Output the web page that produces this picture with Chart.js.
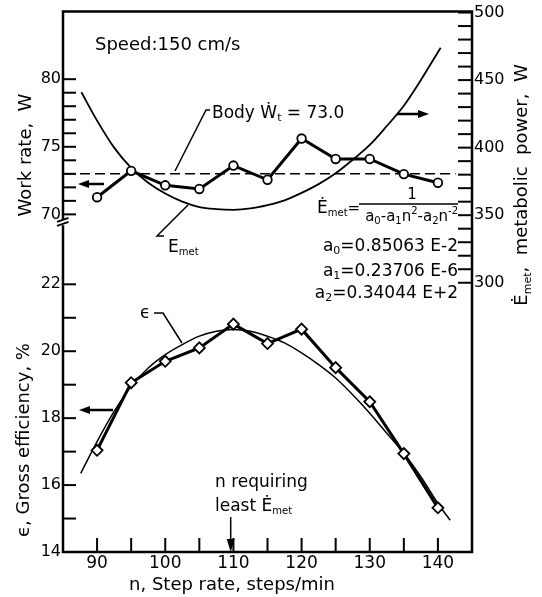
<!DOCTYPE html>
<html><head><meta charset="utf-8">
<script src="https://cdn.jsdelivr.net/npm/chart.js@4.4.1/dist/chart.umd.min.js"></script>
<style>html,body{margin:0;padding:0;background:#fff}canvas{display:block}</style>
</head><body>
<canvas id="c" width="542" height="597"></canvas>
<script>
// ---- data ----
const stepRates = [90, 95, 100, 105, 110, 115, 120, 125, 130, 135, 140];
const workRate = [71.27, 73.22, 72.15, 71.88, 73.61, 72.56, 75.61, 74.10, 74.10, 72.98, 72.34];
const efficiency = [17.04, 19.06, 19.70, 20.10, 20.81, 20.23, 20.66, 19.51, 18.49, 16.94, 15.32];
const bodyWt = 73.0;
const bodyWtRange = [85.3, 142.6];
const emetRates = [87.7, 90, 92.5, 95, 97.5, 100, 102.5, 105, 107.5, 110, 112.5, 115, 117.5, 120, 122.5, 125, 127.5, 130, 132.5, 135, 137.5, 140.4];
const emetValues = [441, 420, 400, 385, 374, 366, 360, 356, 354.5, 354, 355, 357.5, 361, 366.5, 373, 381, 391, 402, 416, 431, 450, 474];
const effFitRates = [87.6, 90, 92.5, 95, 97.5, 100, 102.5, 105, 107.5, 110, 112.5, 115, 117.5, 120, 122.5, 125, 127.5, 130, 132.5, 135, 137.5, 140, 141.8];
const effFitValues = [16.35, 17.3, 18.2, 18.95, 19.5, 19.9, 20.2, 20.45, 20.6, 20.65, 20.6, 20.45, 20.25, 19.95, 19.6, 19.2, 18.7, 18.15, 17.55, 16.95, 16.25, 15.45, 14.95];
const xTickValues = [90, 95, 100, 105, 110, 115, 120, 125, 130, 135, 140];
const xTickLabels = ['90', '', '100', '', '110', '', '120', '', '130', '', '140'];
const workTickValues = [70, 71, 72, 73, 74, 75, 76, 77, 78, 79, 80];
const workTickLabels = ['70', '', '', '', '', '75', '', '', '', '', '80'];
const effTickValues = [14, 15, 16, 17, 18, 19, 20, 21, 22];
const effTickLabels = ['14', '', '16', '', '18', '', '20', '', '22'];
const emetTickValues = [300, 310, 320, 330, 340, 350, 360, 370, 380, 390, 400, 410, 420, 430, 440, 450, 460, 470, 480, 490, 500];
const emetTickLabels = ['300', '', '', '', '', '350', '', '', '', '', '400', '', '', '', '', '450', '', '', '', '', '500'];
const leastEmetRate = 109.6;

const F = '"DejaVu Sans", sans-serif';
const fnt = s => s + 'px ' + F;
const pts = (xs, ys) => xs.map((x, i) => ({x, y: ys[i]}));
const lbl = (vals, labels) => v => { const i = vals.indexOf(v); return i >= 0 ? labels[i] : ''; };
const setTicks = vals => s => { s.ticks = vals.map(v => ({value: v})); };

function rich(ctx, x, y, parts, align) {
  let w = 0;
  for (const p of parts) { ctx.font = fnt(p[1]); w += ctx.measureText(p[0]).width; }
  let cx = align === 'center' ? x - w / 2 : align === 'right' ? x - w : x;
  ctx.textAlign = 'left'; ctx.textBaseline = 'alphabetic';
  for (const p of parts) { ctx.font = fnt(p[1]); ctx.fillText(p[0], cx, y + (p[2] || 0)); cx += ctx.measureText(p[0]).width; }
}
function line(ctx, coords, w) {
  ctx.lineWidth = w; ctx.beginPath(); ctx.moveTo(coords[0], coords[1]);
  for (let i = 2; i < coords.length; i += 2) ctx.lineTo(coords[i], coords[i + 1]);
  ctx.stroke();
}
function arrow(ctx, x1, y1, x2, y2, w, hl, hw) {
  const ang = Math.atan2(y2 - y1, x2 - x1);
  const bx = x2 - Math.cos(ang) * hl, by = y2 - Math.sin(ang) * hl;
  line(ctx, [x1, y1, bx, by], w);
  ctx.beginPath(); ctx.moveTo(x2, y2);
  ctx.lineTo(bx + Math.sin(ang) * hw, by - Math.cos(ang) * hw);
  ctx.lineTo(bx - Math.sin(ang) * hw, by + Math.cos(ang) * hw);
  ctx.closePath(); ctx.fill();
}

const decor = {
  id: 'decor',
  afterDraw(chart) {
    const ctx = chart.ctx, a = chart.chartArea, s = chart.scales;
    ctx.save();
    ctx.strokeStyle = '#000'; ctx.fillStyle = '#000'; ctx.lineCap = 'butt';
    const bY = s.yW.bottom + 8;
    // frame with axis break
    ctx.lineWidth = 2.5; ctx.lineJoin = 'miter';
    ctx.beginPath();
    ctx.moveTo(a.left, bY + 3); ctx.lineTo(a.left, a.bottom); ctx.lineTo(a.right, a.bottom);
    ctx.lineTo(a.right, a.top); ctx.lineTo(a.left, a.top); ctx.lineTo(a.left, bY - 3);
    ctx.stroke();
    line(ctx, [a.left - 6, bY - 0.5, a.left + 5.5, bY - 4.5], 2);
    line(ctx, [a.left - 6, bY + 3.5, a.left + 5.5, bY - 0.5], 2);
    // inward tick marks
    for (const v of xTickValues) { const p = s.x.getPixelForValue(v); line(ctx, [p, a.bottom, p, a.bottom - 14], 2); }
    for (const v of workTickValues) { const p = s.yW.getPixelForValue(v); line(ctx, [a.left, p, a.left + 13, p], 2); }
    for (const v of effTickValues) { const p = s.yEff.getPixelForValue(v); line(ctx, [a.left, p, a.left + 13, p], 2); }
    for (const v of emetTickValues) { const p = s.yE.getPixelForValue(v); line(ctx, [a.right, p, a.right - 14, p], 2); }

    // annotations
    rich(ctx, 95, 49.5, [['Speed:150 cm/s', 18]]);
    rich(ctx, 212, 117.5, [['Body Ẇ', 17], ['t', 11, 3], [' = 73.0', 17]]);
    line(ctx, [210, 110, 206, 110, 175, 171], 1.5);
    arrow(ctx, 397, 114, 429, 114, 2.5, 11, 4);
    arrow(ctx, 104, 184, 78, 184, 2.5, 11, 4);
    line(ctx, [188, 205, 157, 236, 164, 236], 1.5);
    rich(ctx, 168, 252, [['E', 17], ['met', 10, 3]]);
    // formula
    rich(ctx, 317, 213, [['Ė', 17], ['met', 10, 3], ['=', 15]]);
    line(ctx, [359, 204, 458, 204], 1.5);
    rich(ctx, 412, 199, [['1', 15]], 'center');
    rich(ctx, 458, 221, [['a', 15], ['0', 10, 3], ['-', 15], ['a', 15], ['1', 10, 3], ['n', 15], ['2', 10, -7], ['-', 15], ['a', 15], ['2', 10, 3], ['n', 15], ['-2', 10, -7]], 'right');
    rich(ctx, 458, 251, [['a', 17], ['0', 11, 3], ['=0.85063 E-2', 17]], 'right');
    rich(ctx, 458, 275.5, [['a', 17], ['1', 11, 3], ['=0.23706 E-6', 17]], 'right');
    rich(ctx, 458, 297.5, [['a', 17], ['2', 11, 3], ['=0.34044 E+2', 17]], 'right');
    // efficiency annotations
    rich(ctx, 140, 318, [['ϵ', 17]]);
    line(ctx, [154, 313, 163, 313, 182, 343], 1.5);
    arrow(ctx, 113, 410, 79, 410, 2.5, 11, 4);
    rich(ctx, 215, 487, [['n requiring', 17]]);
    rich(ctx, 215, 511, [['least Ė', 17], ['met', 10, 3]]);
    const ax = s.x.getPixelForValue(leastEmetRate);
    arrow(ctx, ax, 517, ax, a.bottom, 1.5, 13, 4);

    // axis titles
    ctx.save(); ctx.translate(30.5, 155); ctx.rotate(-Math.PI / 2);
    rich(ctx, 0, 0, [['Work rate,  W', 18]], 'center'); ctx.restore();
    ctx.save(); ctx.translate(29, 440); ctx.rotate(-Math.PI / 2);
    rich(ctx, 0, 0, [['ϵ, Gross efficiency, %', 18]], 'center'); ctx.restore();
    ctx.save(); ctx.translate(527, 185); ctx.rotate(-Math.PI / 2);
    rich(ctx, 0, 0, [['Ė', 18], ['met', 11, 4], [',  metabolic  power,  W', 18]], 'center'); ctx.restore();
    rich(ctx, 232, 590, [['n, Step rate, steps/min', 18]], 'center');
    ctx.restore();
  }
};

const noGrid = {display: false, drawTicks: false};
new Chart(document.getElementById('c'), {
  type: 'line',
  data: {
    datasets: [
      {label: 'Work rate', data: pts(stepRates, workRate), yAxisID: 'yW', borderColor: '#000', borderWidth: 3,
        pointStyle: 'circle', pointRadius: 4.3, pointBorderWidth: 1.8, pointBorderColor: '#000', pointBackgroundColor: '#fff'},
      {label: 'Efficiency', data: pts(stepRates, efficiency), yAxisID: 'yEff', borderColor: '#000', borderWidth: 3,
        pointStyle: 'rectRot', pointRadius: 5.5, pointBorderWidth: 1.8, pointBorderColor: '#000', pointBackgroundColor: '#fff'},
      {label: 'Body Wt', data: pts(bodyWtRange, [bodyWt, bodyWt]), yAxisID: 'yW', borderColor: '#000', borderWidth: 1.6,
        borderDash: [10, 5], pointRadius: 0},
      {label: 'Emet', data: pts(emetRates, emetValues), yAxisID: 'yE', borderColor: '#000', borderWidth: 1.8,
        cubicInterpolationMode: 'monotone', pointRadius: 0},
      {label: 'Efficiency fit', data: pts(effFitRates, effFitValues), yAxisID: 'yEff', borderColor: '#000', borderWidth: 1.5,
        cubicInterpolationMode: 'monotone', pointRadius: 0}
    ]
  },
  options: {
    responsive: false, animation: false, devicePixelRatio: 1,
    layout: {padding: {top: 11, left: 0, right: 0, bottom: 0}},
    plugins: {legend: {display: false}, tooltip: {enabled: false}, title: {display: false}},
    scales: {
      x: {type: 'linear', position: 'bottom', min: 85, max: 145, grid: noGrid, border: {display: false},
        afterBuildTicks: setTicks(xTickValues), afterFit: s => { s.height = 45; },
        ticks: {autoSkip: false, maxRotation: 0, padding: 1, color: '#000', font: {family: F, size: 17}, callback: lbl(xTickValues, xTickLabels)}},
      yW: {type: 'linear', position: 'left', stack: 'left', stackWeight: 203, weight: 2, min: 70, max: 85,
        grid: noGrid, border: {display: false}, afterBuildTicks: setTicks(workTickValues), afterFit: s => { s.width = 63; },
        ticks: {autoSkip: false, padding: 2, color: '#000', font: {family: F, size: 16}, callback: lbl(workTickValues, workTickLabels)}},
      yEff: {type: 'linear', position: 'left', stack: 'left', stackWeight: 338, weight: 1, min: 14, max: 24.09,
        grid: noGrid, border: {display: false}, afterBuildTicks: setTicks(effTickValues), afterFit: s => { s.width = 63; },
        ticks: {autoSkip: false, padding: 2, color: '#000', font: {family: F, size: 16}, callback: lbl(effTickValues, effTickLabels)}},
      yE: {type: 'linear', position: 'right', min: 100.7, max: 500.7,
        grid: noGrid, border: {display: false}, afterBuildTicks: setTicks(emetTickValues), afterFit: s => { s.width = 70; },
        ticks: {autoSkip: false, padding: 2, color: '#000', font: {family: F, size: 16}, callback: lbl(emetTickValues, emetTickLabels)}}
    }
  },
  plugins: [decor]
});
</script>
</body></html>
